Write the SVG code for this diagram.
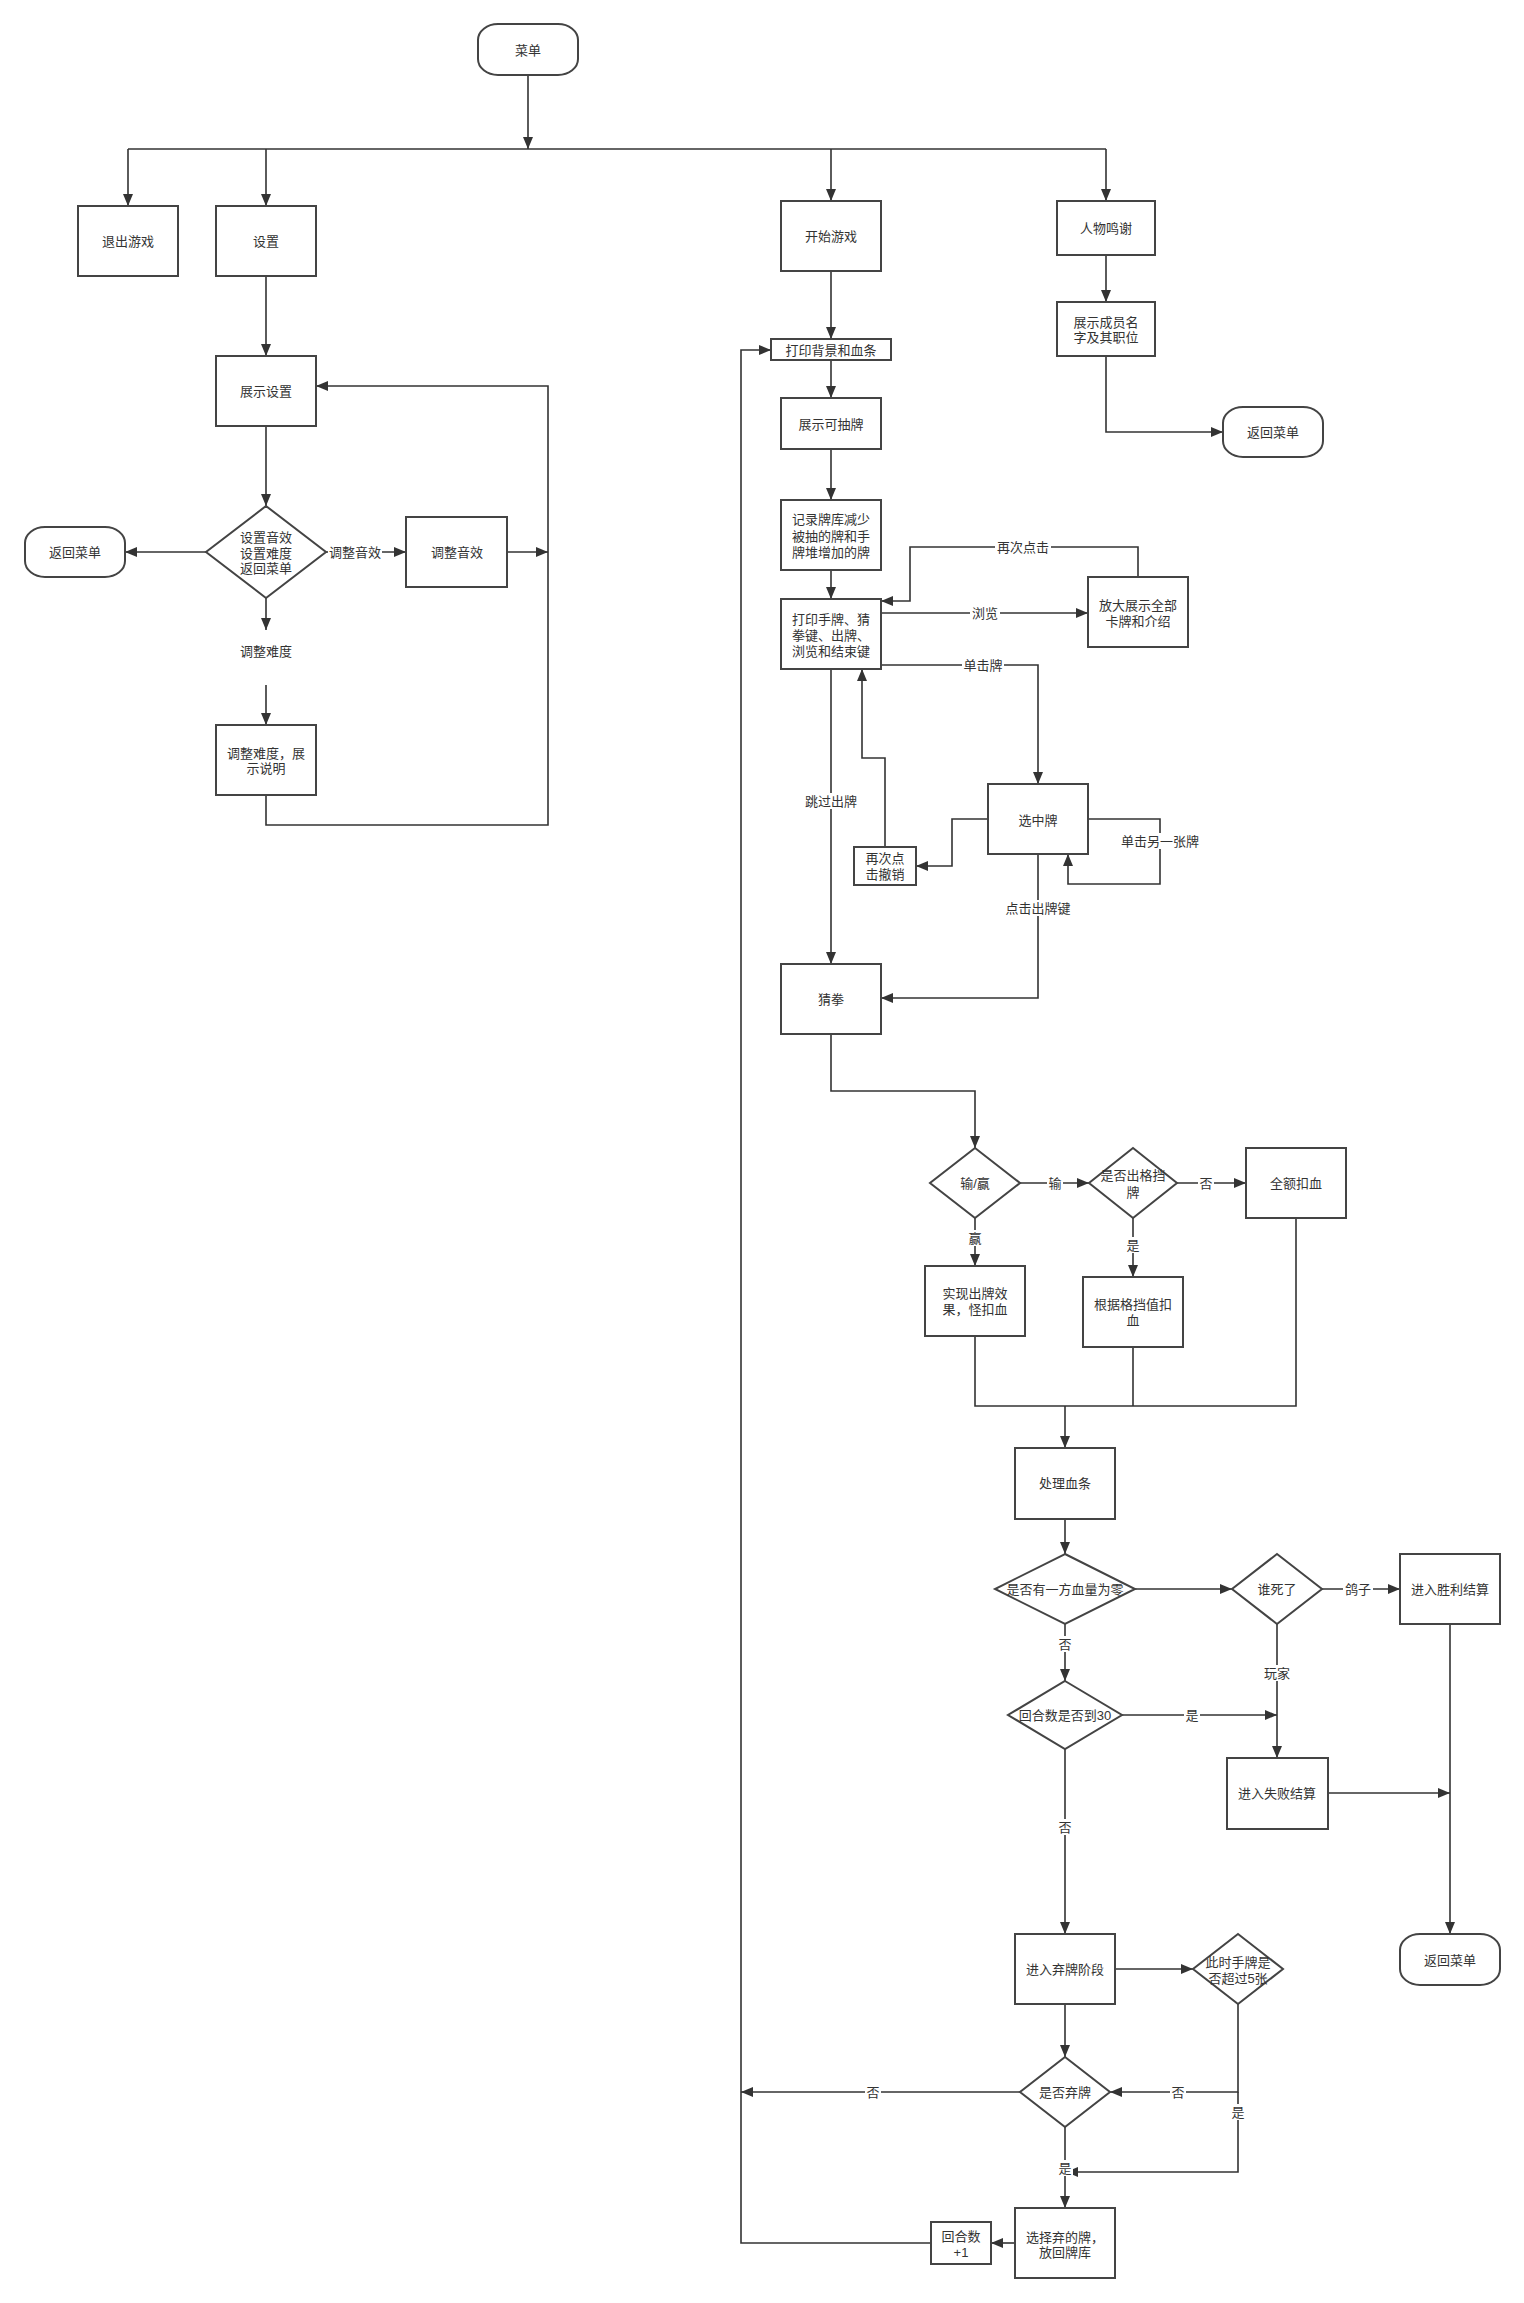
<svg xmlns="http://www.w3.org/2000/svg" width="1524" height="2303" viewBox="0 0 1524 2303">
  <style>
    .box { fill: #fff; stroke: #444; stroke-width: 2; }
    .edge { fill: none; stroke: #333; stroke-width: 1.6; }
    .t { font-family: "Liberation Sans", "Noto Sans CJK SC", sans-serif; font-size: 13px; fill: #333; text-anchor: middle; dominant-baseline: central; }
    .bg { fill: #fff; stroke: none; }
  </style>
  <defs>
    <marker id="ah" viewBox="0 0 12 10" refX="12" refY="5" markerWidth="12" markerHeight="10" markerUnits="userSpaceOnUse" orient="auto">
      <path d="M0,0 L12,5 L0,10 z" fill="#333"/>
    </marker>
  </defs>
  <rect width="1524" height="2303" fill="#fff"/>

  <!-- connectors -->
  <g id="edges">
    <path class="edge" d="M528,75 V149" marker-end="url(#ah)"/>
    <path class="edge" d="M128,149 H1106"/>
    <path class="edge" d="M128,149 V206" marker-end="url(#ah)"/>
    <path class="edge" d="M266,149 V206" marker-end="url(#ah)"/>
    <path class="edge" d="M831,149 V201" marker-end="url(#ah)"/>
    <path class="edge" d="M1106,149 V201" marker-end="url(#ah)"/>

    <!-- settings branch -->
    <path class="edge" d="M266,276 V356" marker-end="url(#ah)"/>
    <path class="edge" d="M266,426 V506" marker-end="url(#ah)"/>
    <path class="edge" d="M206,552 H125" marker-end="url(#ah)"/>
    <path class="edge" d="M326,552 H406" marker-end="url(#ah)"/>
    <path class="edge" d="M507,552 H548" marker-end="url(#ah)"/>
    <path class="edge" d="M266,598 V630" marker-end="url(#ah)"/>
    <path class="edge" d="M266,685 V725" marker-end="url(#ah)"/>
    <path class="edge" d="M266,795 V825 H548 V386 H316" marker-end="url(#ah)"/>

    <!-- credits branch -->
    <path class="edge" d="M1106,255 V302" marker-end="url(#ah)"/>
    <path class="edge" d="M1106,356 V432 H1223" marker-end="url(#ah)"/>

    <!-- game main line -->
    <path class="edge" d="M831,271 V339" marker-end="url(#ah)"/>
    <path class="edge" d="M831,360 V398" marker-end="url(#ah)"/>
    <path class="edge" d="M831,449 V500" marker-end="url(#ah)"/>
    <path class="edge" d="M831,570 V599" marker-end="url(#ah)"/>
    <path class="edge" d="M881,613 H1088" marker-end="url(#ah)"/>
    <path class="edge" d="M1138,577 V547 H910 V601 H881" marker-end="url(#ah)"/>
    <path class="edge" d="M881,665 H1038 V784" marker-end="url(#ah)"/>
    <path class="edge" d="M1088,819 H1160 V884 H1068 V854" marker-end="url(#ah)"/>
    <path class="edge" d="M988,819 H952 V866 H916" marker-end="url(#ah)"/>
    <path class="edge" d="M885,847 V758 H862 V669" marker-end="url(#ah)"/>
    <path class="edge" d="M831,669 V964" marker-end="url(#ah)"/>
    <path class="edge" d="M1038,854 V998 H881" marker-end="url(#ah)"/>

    <!-- rock paper scissors outcome -->
    <path class="edge" d="M831,1034 V1091 H975 V1148" marker-end="url(#ah)"/>
    <path class="edge" d="M1020,1183 H1089" marker-end="url(#ah)"/>
    <path class="edge" d="M1177,1183 H1246" marker-end="url(#ah)"/>
    <path class="edge" d="M975,1218 V1266" marker-end="url(#ah)"/>
    <path class="edge" d="M1133,1218 V1277" marker-end="url(#ah)"/>
    <path class="edge" d="M975,1336 V1406 H1296 V1218"/>
    <path class="edge" d="M1133,1347 V1406"/>
    <path class="edge" d="M1065,1406 V1448" marker-end="url(#ah)"/>

    <!-- health checks -->
    <path class="edge" d="M1065,1519 V1554" marker-end="url(#ah)"/>
    <path class="edge" d="M1135,1589 H1232" marker-end="url(#ah)"/>
    <path class="edge" d="M1322,1589 H1400" marker-end="url(#ah)"/>
    <path class="edge" d="M1065,1624 V1681" marker-end="url(#ah)"/>
    <path class="edge" d="M1277,1624 V1758" marker-end="url(#ah)"/>
    <path class="edge" d="M1122,1715 H1277" marker-end="url(#ah)"/>
    <path class="edge" d="M1328,1793 H1450" marker-end="url(#ah)"/>
    <path class="edge" d="M1450,1624 V1934" marker-end="url(#ah)"/>
    <path class="edge" d="M1065,1749 V1934" marker-end="url(#ah)"/>

    <!-- discard phase -->
    <path class="edge" d="M1115,1969 H1193" marker-end="url(#ah)"/>
    <path class="edge" d="M1065,2004 V2057" marker-end="url(#ah)"/>
    <path class="edge" d="M1238,2004 V2092 H1110" marker-end="url(#ah)"/>
    <path class="edge" d="M1238,2092 V2172 H1066" marker-end="url(#ah)"/>
    <path class="edge" d="M1020,2092 H741" marker-end="url(#ah)"/>
    <path class="edge" d="M1065,2127 V2208" marker-end="url(#ah)"/>
    <path class="edge" d="M1015,2243 H991" marker-end="url(#ah)"/>
    <path class="edge" d="M931,2243 H741 V350 H771" marker-end="url(#ah)"/>

    <!-- connector labels -->
    <rect class="bg" x="328" y="544" width="54" height="16"/>
    <text class="t" x="355" y="552">调整音效</text>
    <text class="t" x="266" y="651">调整难度</text>
    <rect class="bg" x="995" y="539" width="56" height="16"/>
    <text class="t" x="1023" y="547">再次点击</text>
    <rect class="bg" x="970" y="605" width="30" height="16"/>
    <text class="t" x="985" y="613">浏览</text>
    <rect class="bg" x="962" y="657" width="42" height="16"/>
    <text class="t" x="983" y="665">单击牌</text>
    <rect class="bg" x="1125" y="833" width="70" height="16"/>
    <text class="t" x="1160" y="841">单击另一张牌</text>
    <rect class="bg" x="802" y="793" width="58" height="16"/>
    <text class="t" x="831" y="801">跳过出牌</text>
    <rect class="bg" x="1003" y="900" width="70" height="16"/>
    <text class="t" x="1038" y="908">点击出牌键</text>
    <rect class="bg" x="1047" y="1175" width="16" height="16"/>
    <text class="t" x="1055" y="1183">输</text>
    <rect class="bg" x="1198" y="1175" width="16" height="16"/>
    <text class="t" x="1206" y="1183">否</text>
    <rect class="bg" x="967" y="1230" width="16" height="16"/>
    <text class="t" x="975" y="1238">赢</text>
    <rect class="bg" x="1125" y="1237" width="16" height="16"/>
    <text class="t" x="1133" y="1245">是</text>
    <rect class="bg" x="1343" y="1581" width="30" height="16"/>
    <text class="t" x="1358" y="1589">鸽子</text>
    <rect class="bg" x="1057" y="1636" width="16" height="16"/>
    <text class="t" x="1065" y="1644">否</text>
    <rect class="bg" x="1262" y="1665" width="30" height="16"/>
    <text class="t" x="1277" y="1673">玩家</text>
    <rect class="bg" x="1184" y="1707" width="16" height="16"/>
    <text class="t" x="1192" y="1715">是</text>
    <rect class="bg" x="1057" y="1819" width="16" height="16"/>
    <text class="t" x="1065" y="1827">否</text>
    <rect class="bg" x="1170" y="2084" width="16" height="16"/>
    <text class="t" x="1178" y="2092">否</text>
    <rect class="bg" x="1230" y="2104" width="16" height="16"/>
    <text class="t" x="1238" y="2112">是</text>
    <rect class="bg" x="865" y="2084" width="16" height="16"/>
    <text class="t" x="873" y="2092">否</text>
    <rect class="bg" x="1057" y="2160" width="16" height="16"/>
    <text class="t" x="1065" y="2168">是</text>
  </g>

  <!-- menu level -->
  <g id="menu"><rect class="box" x="478" y="24" width="100" height="51" rx="20" ry="16"/><text class="t" x="528" y="50">菜单</text></g>
  <g id="quit"><rect class="box" x="78" y="206" width="100" height="70"/><text class="t" x="128" y="241">退出游戏</text></g>
  <g id="settings"><rect class="box" x="216" y="206" width="100" height="70"/><text class="t" x="266" y="241">设置</text></g>
  <g id="start"><rect class="box" x="781" y="201" width="100" height="70"/><text class="t" x="831" y="236">开始游戏</text></g>
  <g id="credits"><rect class="box" x="1057" y="201" width="98" height="54"/><text class="t" x="1106" y="228">人物鸣谢</text></g>

  <!-- settings -->
  <g id="show-settings"><rect class="box" x="216" y="356" width="100" height="70"/><text class="t" x="266" y="391">展示设置</text></g>
  <g id="settings-choice"><path class="box" d="M266,506 L326,552 L266,598 L206,552 Z"/>
    <text class="t" x="266" y="537">设置音效</text><text class="t" x="266" y="553">设置难度</text><text class="t" x="266" y="568">返回菜单</text></g>
  <g id="back-menu-1"><rect class="box" x="25" y="527" width="100" height="50" rx="20" ry="16"/><text class="t" x="75" y="552">返回菜单</text></g>
  <g id="adjust-sound"><rect class="box" x="406" y="517" width="101" height="70"/><text class="t" x="457" y="552">调整音效</text></g>
  <g id="adjust-difficulty"><rect class="box" x="216" y="725" width="100" height="70"/>
    <text class="t" x="266" y="753">调整难度，展</text><text class="t" x="266" y="768">示说明</text></g>

  <!-- credits -->
  <g id="members"><rect class="box" x="1057" y="302" width="98" height="54"/>
    <text class="t" x="1106" y="322">展示成员名</text><text class="t" x="1106" y="337">字及其职位</text></g>
  <g id="back-menu-2"><rect class="box" x="1223" y="407" width="100" height="50" rx="20" ry="16"/><text class="t" x="1273" y="432">返回菜单</text></g>

  <!-- game loop -->
  <g id="print-bg"><rect class="box" x="771" y="339" width="120" height="21"/><text class="t" x="831" y="350">打印背景和血条</text></g>
  <g id="show-draw"><rect class="box" x="781" y="398" width="100" height="51"/><text class="t" x="831" y="424">展示可抽牌</text></g>
  <g id="record"><rect class="box" x="781" y="500" width="100" height="70"/>
    <text class="t" x="831" y="519">记录牌库减少</text><text class="t" x="831" y="536">被抽的牌和手</text><text class="t" x="831" y="552">牌堆增加的牌</text></g>
  <g id="print-hand"><rect class="box" x="781" y="599" width="100" height="70"/>
    <text class="t" x="831" y="619">打印手牌、猜</text><text class="t" x="831" y="635">拳键、出牌、</text><text class="t" x="831" y="651">浏览和结束键</text></g>
  <g id="zoom-view"><rect class="box" x="1088" y="577" width="100" height="70"/>
    <text class="t" x="1138" y="605">放大展示全部</text><text class="t" x="1138" y="621">卡牌和介绍</text></g>
  <g id="selected"><rect class="box" x="988" y="784" width="100" height="70"/><text class="t" x="1038" y="820">选中牌</text></g>
  <g id="cancel"><rect class="box" x="854" y="847" width="62" height="38"/>
    <text class="t" x="885" y="858">再次点</text><text class="t" x="885" y="874">击撤销</text></g>
  <g id="rps"><rect class="box" x="781" y="964" width="100" height="70"/><text class="t" x="831" y="999">猜拳</text></g>

  <g id="win-lose"><path class="box" d="M975,1148 L1020,1183 L975,1218 L930,1183 Z"/><text class="t" x="975" y="1183">输/赢</text></g>
  <g id="block"><path class="box" d="M1133,1148 L1177,1183 L1133,1218 L1089,1183 Z"/>
    <text class="t" x="1133" y="1175">是否出格挡</text><text class="t" x="1133" y="1192">牌</text></g>
  <g id="full-damage"><rect class="box" x="1246" y="1148" width="100" height="70"/><text class="t" x="1296" y="1183">全额扣血</text></g>
  <g id="effect"><rect class="box" x="925" y="1266" width="100" height="70"/>
    <text class="t" x="975" y="1293">实现出牌效</text><text class="t" x="975" y="1309">果，怪扣血</text></g>
  <g id="block-damage"><rect class="box" x="1083" y="1277" width="100" height="70"/>
    <text class="t" x="1133" y="1304">根据格挡值扣</text><text class="t" x="1133" y="1320">血</text></g>
  <g id="hp"><rect class="box" x="1015" y="1448" width="100" height="71"/><text class="t" x="1065" y="1483">处理血条</text></g>

  <g id="any-zero"><path class="box" d="M1065,1554 L1135,1589 L1065,1624 L995,1589 Z"/><text class="t" x="1065" y="1589">是否有一方血量为零</text></g>
  <g id="who-died"><path class="box" d="M1277,1554 L1322,1589 L1277,1624 L1232,1589 Z"/><text class="t" x="1277" y="1589">谁死了</text></g>
  <g id="victory"><rect class="box" x="1400" y="1554" width="100" height="70"/><text class="t" x="1450" y="1589">进入胜利结算</text></g>
  <g id="round30"><path class="box" d="M1065,1681 L1122,1715 L1065,1749 L1008,1715 Z"/><text class="t" x="1065" y="1715">回合数是否到30</text></g>
  <g id="defeat"><rect class="box" x="1227" y="1758" width="101" height="71"/><text class="t" x="1277" y="1793">进入失败结算</text></g>
  <g id="back-menu-3"><rect class="box" x="1400" y="1934" width="100" height="51" rx="20" ry="16"/><text class="t" x="1450" y="1960">返回菜单</text></g>

  <g id="discard"><rect class="box" x="1015" y="1934" width="100" height="70"/><text class="t" x="1065" y="1969">进入弃牌阶段</text></g>
  <g id="over5"><path class="box" d="M1238,1934 L1283,1969 L1238,2004 L1193,1969 Z"/>
    <text class="t" x="1238" y="1962">此时手牌是</text><text class="t" x="1238" y="1978">否超过5张</text></g>
  <g id="do-discard"><path class="box" d="M1065,2057 L1110,2092 L1065,2127 L1020,2092 Z"/><text class="t" x="1065" y="2092">是否弃牌</text></g>
  <g id="choose"><rect class="box" x="1015" y="2208" width="100" height="70"/>
    <text class="t" x="1065" y="2237">选择弃的牌，</text><text class="t" x="1065" y="2252">放回牌库</text></g>
  <g id="round-plus"><rect class="box" x="931" y="2222" width="60" height="42"/>
    <text class="t" x="961" y="2236">回合数</text><text class="t" x="961" y="2252">+1</text></g>
</svg>
